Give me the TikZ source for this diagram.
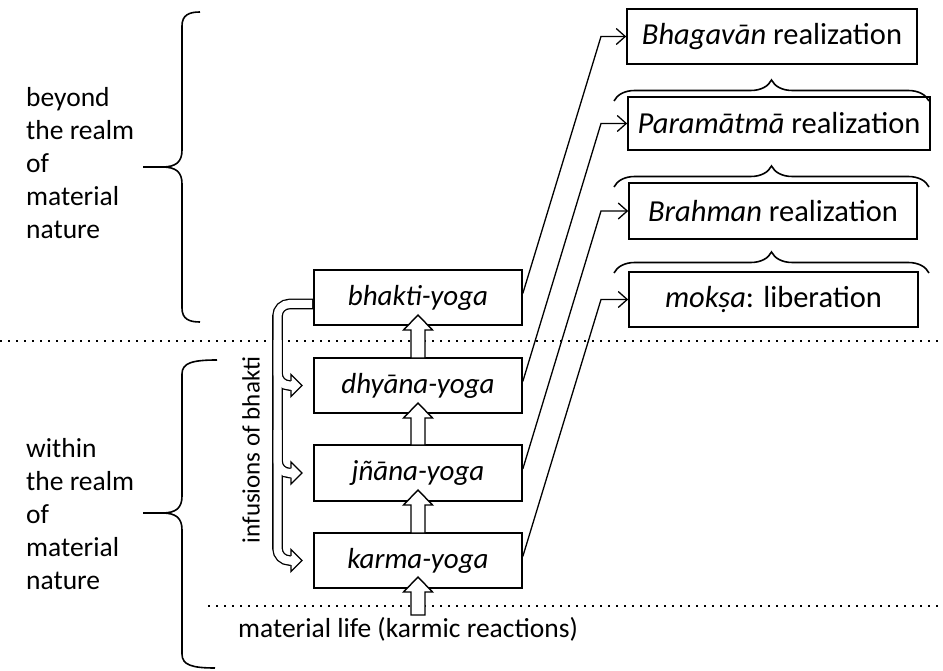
\documentclass[tikz,border=0pt]{standalone}
\usepackage{fontspec}
\setmainfont{Carlito}
\usetikzlibrary{arrows.meta,decorations.pathreplacing}
\begin{document}
\begin{tikzpicture}[x=1pt,y=-1pt,
  box/.style={draw, line width=1.6pt, fill=white, minimum height=55pt, inner sep=0pt, font=\fontsize{29}{34}\selectfont},
  rbox/.style={box, font=\fontsize{30.5}{35}\selectfont},
  lbl/.style={anchor=base west, inner sep=0pt, font=\fontsize{27.5}{33}\selectfont},
  conn/.style={line width=1.3pt, -{Straight Barb[length=9pt,width=16pt]}},
  rbrace/.style={decorate, decoration={brace, amplitude=21pt}, line width=1.6pt},
  lbrace/.style={line width=1.6pt},
  dots/.style={line width=1.6pt, dash pattern=on 1.6pt off 6.4pt},
  blockarrow/.style={draw, line width=1.4pt, fill=white, line join=miter},
  infblack/.style={line width=10.6pt, rounded corners=12pt},
  infwhite/.style={line width=8pt, white, rounded corners=12pt},
  infhead/.style={line width=1.3pt, line join=miter},
]
\useasboundingbox (0,0) rectangle (943,671);

% dotted separators
\draw[dots] (0,341) -- (943,341);
\draw[dots] (208,606) -- (943,606);

% left braces
\draw[lbrace] (200,12) .. controls (189,12) and (182,15) .. (182,26) -- (182,150)
  .. controls (182,162) and (176,167) .. (162,167) -- (143,167) -- (162,167)
  .. controls (176,167) and (182,172) .. (182,184) -- (182,308)
  .. controls (182,319) and (189,322) .. (200,322);
\draw[lbrace] (217,360) .. controls (192,360) and (182,363) .. (182,374) -- (182,496)
  .. controls (182,508) and (176,513) .. (162,513) -- (143,513) -- (162,513)
  .. controls (176,513) and (182,518) .. (182,530) -- (182,654)
  .. controls (182,665) and (192,668) .. (215,668);

% left labels
\node[lbl] (b1) at (26,107) {beyond};
\node[lbl] (b2) at (26,140) {the realm};
\node[lbl] (b3) at (26,173) {of};
\node[lbl] (b4) at (26,206) {material};
\node[lbl] (b5) at (26,239) {nature};
\node[lbl] (w1) at (26,457) {within};
\node[lbl] (w2) at (26,490) {the realm};
\node[lbl] (w3) at (26,523) {of};
\node[lbl] (w4) at (26,556) {material};
\node[lbl] (w5) at (26,589) {nature};
\node[lbl] (life) at (238,637) {material life (karmic reactions)};

% yoga boxes
\node[box, minimum width=208pt] (bhakti) at (418,297.5) {\itshape bhakti-yoga};
\node[box, minimum width=208pt] (dhyana) at (418,385.5) {\itshape dhyāna-yoga};
\node[box, minimum width=208pt, minimum height=56pt] (jnana) at (418,473) {\itshape jñāna-yoga};
\node[box, minimum width=208pt] (karma) at (418,560.5) {\itshape karma-yoga};

% realization boxes
\node[rbox, minimum width=290pt] (bhag) at (772,36.5) {\textit{Bhagavān} realization};
\node[rbox, minimum width=302pt, minimum height=53pt] (param) at (779,123.5) {\textit{Paramātmā} realization};
\node[rbox, minimum width=288pt, minimum height=56pt] (brahman) at (773,211) {\textit{Brahman} realization};
\node[rbox, minimum width=289pt] (moksa) at (773.5,299.5) {\textit{mokṣa}: liberation};

% right braces
\draw[rbrace] (614,101) -- (929,101);
\draw[rbrace] (614,187) -- (929,187);
\draw[rbrace] (614,273) -- (929,273);

% connectors
\draw[conn] ([yshift=4pt]bhakti.east) -- (601,0 |- bhag.west) -- (bhag.west);
\draw[conn] ([yshift=4pt]dhyana.east) -- (601,0 |- param.west) -- (param.west);
\draw[conn] ([yshift=4pt]jnana.east) -- (601,0 |- brahman.west) -- (brahman.west);
\draw[conn] ([yshift=4pt]karma.east) -- (601,0 |- moksa.west) -- (moksa.west);

% hollow up arrows
\newcommand\blockup[2]{\draw[blockarrow] (418,#1) -- (432.5,#1+15) -- (425,#1+15) -- (425,#2) -- (411,#2) -- (411,#1+15) -- (403.5,#1+15) -- cycle;}
\blockup{315}{358}
\blockup{403}{445}
\blockup{490}{533}
\blockup{577}{615}

% infusions of bhakti
\draw[infblack] ([yshift=-6.5pt]bhakti.west) -- (277.5,304) -- (277.5,560.5) -- (291,560.5);
\draw[infblack] (277.5,340) -- (277.5,385.5) -- (291,385.5);
\draw[infblack] (277.5,430) -- (277.5,473) -- (291,473);
\draw[infwhite] ([yshift=-6.5pt,xshift=-1pt]bhakti.west) -- (277.5,304) -- (277.5,560.5) -- (291,560.5);
\draw[infwhite] (277.5,340) -- (277.5,385.5) -- (291,385.5);
\draw[infwhite] (277.5,430) -- (277.5,473) -- (291,473);
\newcommand\infarrowhead[1]{%
  \fill[white] (290.5,#1-11) -- (302,#1) -- (290.5,#1+11) -- cycle;
  \draw[infhead] (291,#1-4.6) -- (291,#1-11) -- (302,#1) -- (291,#1+11) -- (291,#1+4.6);}
\infarrowhead{385.5}
\infarrowhead{473}
\infarrowhead{560.5}
\node[rotate=90, inner sep=0pt, font=\fontsize{25}{30}\selectfont] (inf) at (251,450) {infusions of bhakti};
\end{tikzpicture}
\end{document}
